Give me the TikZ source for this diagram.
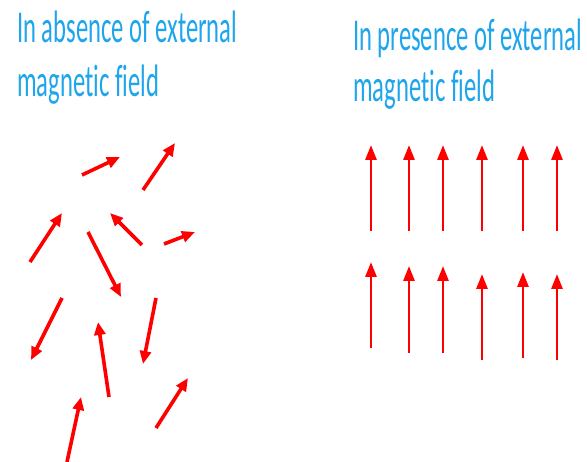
\documentclass[tikz,border=0pt]{standalone}
\usepackage{fontspec}
\usepackage{graphicx}
\setmainfont[Ligatures=NoCommon]{Carlito}
\usetikzlibrary{arrows.meta}
\definecolor{titleblue}{RGB}{30,165,235}
\newcommand{\tallline}[1]{\scalebox{1}[1.85]{#1}}

\begin{document}
\begin{tikzpicture}[
  x=1pt, y=-1pt,
  ttl/.style={anchor=base west, inner sep=0pt, text=titleblue,
              font=\fontsize{24.6}{28}\selectfont},
  spin/.style={draw=red, line width=3.6pt,
               -{Triangle[length=13pt, width=11pt]}},
  upspin/.style={draw=red, line width=2.8pt,
                 -{Triangle[length=15pt, width=11pt]}}]

\useasboundingbox (0,0) rectangle (587,462);

% ===== titles =====
\node[ttl] (abs1) at (17,43)  {\tallline{In absence of external}};
\node[ttl] (abs2) at (17,97)  {\tallline{magnetic field}};
\node[ttl] (pre1) at (353,51) {\tallline{In presence of external}};
\node[ttl] (pre2) at (353,102){\tallline{magnetic field}};

% ===== random spins (no field) =====
\draw[spin] (82,175)  -- (120,157);
\draw[spin] (143,190) -- (175,143);
\draw[spin] (30,262)  -- (62,213);
\draw[spin] (142,245) -- (110,213);
\draw[spin] (164,244) -- (195,232);
\draw[spin] (88,232)  -- (121,297);
\draw[spin] (62,298)  -- (31,360);
\draw[spin] (109,397) -- (98,322);
\draw[spin] (156,298) -- (143,364);
\draw[spin] (156,428) -- (188,378);
\draw[spin] (67,462)  -- (81,397);

% ===== aligned spins (field on) =====
\draw[upspin] (371,231) -- (371,145);
\draw[upspin] (409,231) -- (409,145);
\draw[upspin] (443,231) -- (443,145);
\draw[upspin] (482,231) -- (482,145);
\draw[upspin] (523,231) -- (523,145);
\draw[upspin] (557,231) -- (557,145);

\draw[upspin] (371,348) -- (371,262);
\draw[upspin] (409,353) -- (409,266);
\draw[upspin] (443,353) -- (443,266);
\draw[upspin] (482,360) -- (482,274);
\draw[upspin] (523,358) -- (523,272);
\draw[upspin] (557,360) -- (557,274);

\end{tikzpicture}
\end{document}
